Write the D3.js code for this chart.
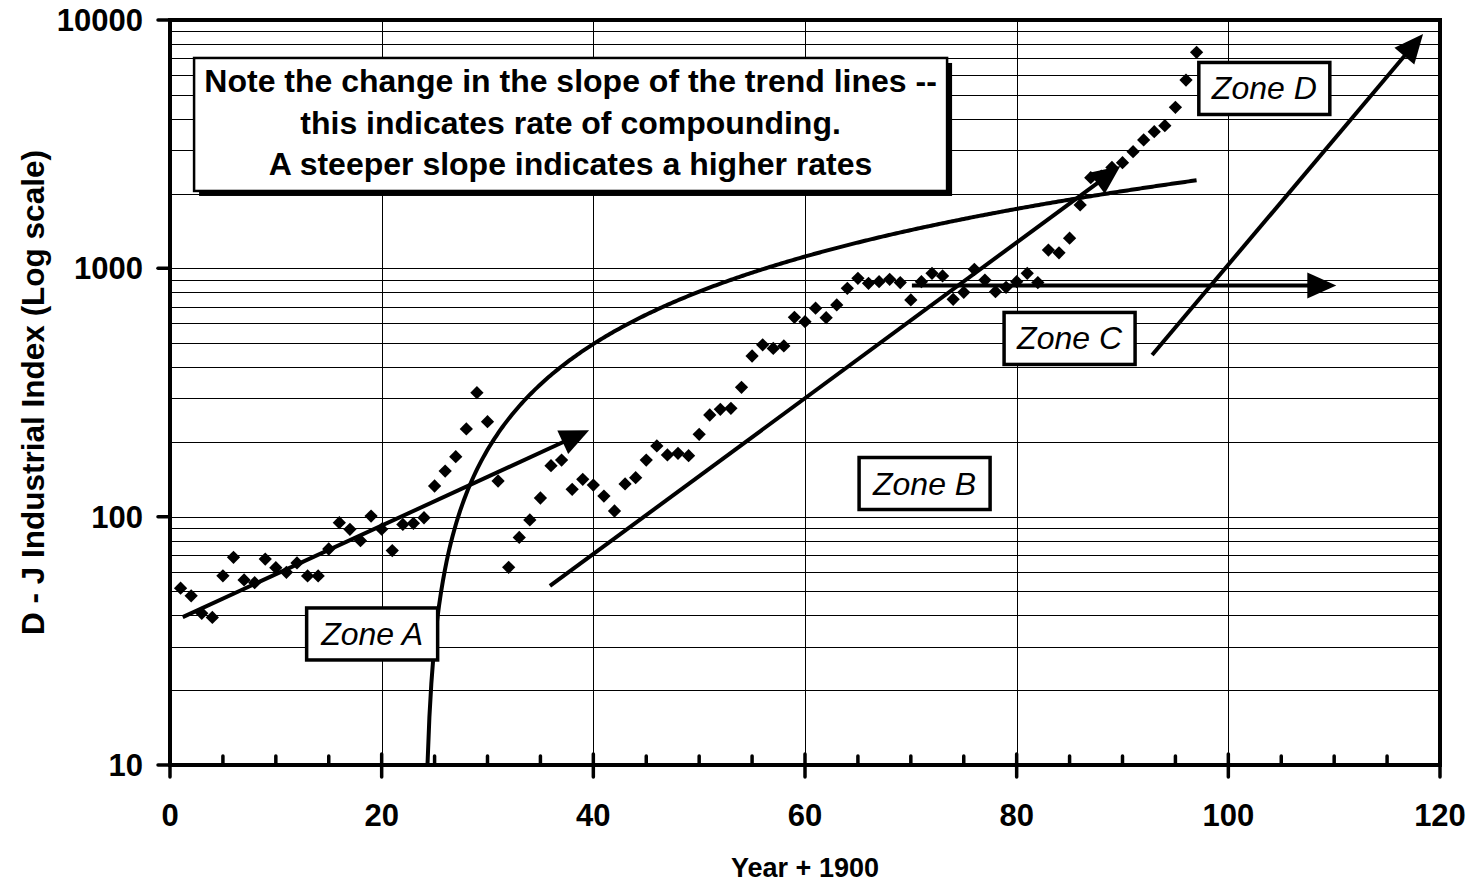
<!DOCTYPE html>
<html>
<head>
<meta charset="utf-8">
<script src="https://cdn.jsdelivr.net/npm/d3@7"></script>
<style>
  body { margin: 0; background: #fff; }
  svg { display: block; }
  text { font-family: "Liberation Sans", Arial, Helvetica, sans-serif; fill: #000; }
</style>
</head>
<body>
<svg id="chart" width="1476" height="882"></svg>
<script>
// ---------------- DATA ----------------
const years = [1,2,3,4,5,6,7,8,9,10,11,12,13,14,15,16,17,18,19,20,
  21,22,23,24,25,26,27,28,29,30,31,32,33,34,35,36,37,38,39,40,
  41,42,43,44,45,46,47,48,49,50,51,52,53,54,55,56,57,58,59,60,
  61,62,63,64,65,66,67,68,69,70,71,72,73,74,75,76,77,78,79,80,
  81,82,83,84,85,86,87,88,89,90,91,92,93,94,95,96,97];
const djia = [51.5,48,40.8,39.3,57.8,68.6,55.6,54.2,67.5,62.3,
  59.7,65.1,57.7,57.7,74.1,94.6,88.9,80,100.6,89,
  73,93.1,94,99,132.9,152.7,174.4,225.5,315.7,241.2,
  139.2,62.5,82.5,97,118.9,160.5,169,128.9,141.4,134.1,
  121.1,105.4,135.4,143.5,169,192.6,177.2,179.9,176.1,214.7,
  256.7,270.6,273.1,331.8,443.6,492,476,487,635,610,
  691,633,712,831,912,870,884,903,876,746,
  884,955,932,750,801,991,897,805,839,884,
  955,876,1185,1155,1322,1800,2317,2350,2547,2663,
  2950,3288,3550,3752,4449,5730,7413];

const xTickValues = [0,20,40,60,80,100,120];
const xTickLabels = ["0","20","40","60","80","100","120"];
const yTickValues = [10,100,1000,10000];
const yTickLabels = ["10","100","1000","10000"];

// hand-drawn trend arrows (data coordinates: [year, index])
const arrowFrom = [[1.2,39.4],[35.9,52.6],[70.1,853],[92.8,448]];
const arrowTo   = [[39.6,223],[89.8,2580],[110.2,853],[118.4,8790]];

const zoneNames = ["Zone A","Zone B","Zone C","Zone D"];
const zoneAt = [[19.1,33.7],[71.3,136],[85.0,522],[103.4,5300]];

const noteLines = [
  "Note the change in the slope of the trend lines --",
  "this indicates rate of compounding.",
  "A steeper slope indicates a higher rates"
];
const noteAt = [37.85, 3796];

const xTitle = "Year + 1900";
const yTitle = "D - J Industrial Index (Log scale)";

// ---------------- LAYOUT ----------------
const svg = d3.select("#chart");
const L = 170, R = 1440, T = 20, B = 765;
const x = d3.scaleLinear().domain([0,120]).range([L,R]);
const y = d3.scaleLog().domain([10,10000]).range([B,T]);

// gridlines
const grid = svg.append("g").attr("shape-rendering","crispEdges");
grid.selectAll("line.h").data(y.ticks().filter(v => v > 10 && v < 10000))
  .join("line").attr("class","h")
  .attr("x1",L).attr("x2",R)
  .attr("y1",d => Math.round(y(d))+0.5).attr("y2",d => Math.round(y(d))+0.5)
  .attr("stroke","#000").attr("stroke-width",1);
grid.selectAll("line.v").data(xTickValues.filter(v => v > 0 && v < 120))
  .join("line").attr("class","v")
  .attr("y1",T).attr("y2",B)
  .attr("x1",d => Math.round(x(d))+0.5).attr("x2",d => Math.round(x(d))+0.5)
  .attr("stroke","#000").attr("stroke-width",1);

// clip for plot content
svg.append("defs").append("clipPath").attr("id","plotclip")
  .append("rect").attr("x",L).attr("y",T).attr("width",R-L).attr("height",B-T);

const plot = svg.append("g").attr("clip-path","url(#plotclip)");

// linear least-squares trendline of the data (plotted on log axis -> curve)
const n = years.length;
const mx = d3.mean(years), my = d3.mean(djia);
let sxy = 0, sxx = 0;
for (let i = 0; i < n; i++) { sxy += (years[i]-mx)*(djia[i]-my); sxx += (years[i]-mx)**2; }
const slope = sxy/sxx, icpt = my - slope*mx;
const tStart = (10 - icpt)/slope, tEnd = years[n-1];
const trendPts = [];
for (let t = tStart; t <= tEnd + 1e-9; t += (tEnd - tStart)/400) trendPts.push([t, slope*t + icpt]);
plot.append("path")
  .attr("d", d3.line().x(d => x(d[0])).y(d => y(Math.max(d[1], 10))).curve(d3.curveLinear)(trendPts))
  .attr("fill","none").attr("stroke","#000").attr("stroke-width",4);

// arrows
function drawArrow(g, p1, p2) {
  const x1 = x(p1[0]), y1 = y(p1[1]), x2 = x(p2[0]), y2 = y(p2[1]);
  const dx = x2 - x1, dy = y2 - y1, len = Math.hypot(dx, dy);
  const ux = dx/len, uy = dy/len, nx = -uy, ny = ux;
  const HL = 29, HW = 13;
  const bx = x2 - ux*HL, by = y2 - uy*HL;
  g.append("line").attr("x1",x1).attr("y1",y1).attr("x2",bx+ux*3).attr("y2",by+uy*3)
    .attr("stroke","#000").attr("stroke-width",4);
  g.append("path")
    .attr("d", `M${x2},${y2}L${bx+nx*HW},${by+ny*HW}L${bx-nx*HW},${by-ny*HW}Z`)
    .attr("fill","#000");
}
for (let i = 0; i < arrowFrom.length; i++) drawArrow(plot, arrowFrom[i], arrowTo[i]);

// data points (diamonds)
plot.selectAll("path.pt").data(years.map((t,i) => [t, djia[i]]))
  .join("path").attr("class","pt")
  .attr("d", d3.symbol(d3.symbolSquare, 88)())
  .attr("transform", d => `translate(${x(d[0])},${y(d[1])}) rotate(45)`)
  .attr("fill","#000");

// zone labels
const zg = svg.append("g");
zoneNames.forEach((name, i) => {
  const cx = x(zoneAt[i][0]), cy = y(zoneAt[i][1]);
  const w = 131, h = 52;
  zg.append("rect").attr("x",cx-w/2).attr("y",cy-h/2).attr("width",w).attr("height",h)
    .attr("fill","#fff").attr("stroke","#000").attr("stroke-width",3.5);
  zg.append("text").attr("x",cx).attr("y",cy+11).attr("text-anchor","middle")
    .attr("font-size",32).attr("font-style","italic").text(name);
});

// note box
{
  const cx = x(noteAt[0]), cy = y(noteAt[1]);
  const w = 753, h = 133;
  svg.append("rect").attr("x",cx-w/2+5).attr("y",cy-h/2+5).attr("width",w).attr("height",h).attr("fill","#000");
  svg.append("rect").attr("x",cx-w/2).attr("y",cy-h/2).attr("width",w).attr("height",h)
    .attr("fill","#fff").attr("stroke","#000").attr("stroke-width",2.5);
  noteLines.forEach((s, i) => {
    svg.append("text").attr("x",cx).attr("y",cy - 32 + i*41.5).attr("text-anchor","middle")
      .attr("font-size",32).attr("font-weight","bold").text(s);
  });
}

// frame
svg.append("rect").attr("x",L).attr("y",T).attr("width",R-L).attr("height",B-T)
  .attr("fill","none").attr("stroke","#000").attr("stroke-width",4);

// x ticks
const ax = svg.append("g");
ax.selectAll("line.minor").data(d3.range(0,121,5).filter(v => v % 20 !== 0))
  .join("line").attr("class","minor")
  .attr("x1",d => x(d)).attr("x2",d => x(d)).attr("y1",B-9).attr("y2",B)
  .attr("stroke","#000").attr("stroke-width",3.5).attr("stroke-linecap","round");
ax.selectAll("line.major").data(xTickValues)
  .join("line").attr("class","major")
  .attr("x1",d => x(d)).attr("x2",d => x(d)).attr("y1",B-11).attr("y2",B+12)
  .attr("stroke","#000").attr("stroke-width",3.5).attr("stroke-linecap","round");
ax.selectAll("text").data(xTickValues)
  .join("text").attr("x",d => x(d)).attr("y",B+61).attr("text-anchor","middle")
  .attr("font-size",31).attr("font-weight","bold").text((d,i) => xTickLabels[i]);

// y ticks
const ay = svg.append("g");
ay.selectAll("line").data(yTickValues)
  .join("line").attr("x1",L-12).attr("x2",L).attr("y1",d => y(d)).attr("y2",d => y(d))
  .attr("stroke","#000").attr("stroke-width",3.5).attr("stroke-linecap","round");
ay.selectAll("text").data(yTickValues)
  .join("text").attr("x",143).attr("y",d => y(d)+11).attr("text-anchor","end")
  .attr("font-size",31).attr("font-weight","bold").text((d,i) => yTickLabels[i]);

// titles
svg.append("text").attr("x",(L+R)/2).attr("y",877).attr("text-anchor","middle")
  .attr("font-size",27).attr("font-weight","bold").text(xTitle);
svg.append("text").attr("transform",`translate(44,${(T+B)/2}) rotate(-90)`)
  .attr("text-anchor","middle").attr("font-size",31.5).attr("font-weight","bold").text(yTitle);
</script>
</body>
</html>
